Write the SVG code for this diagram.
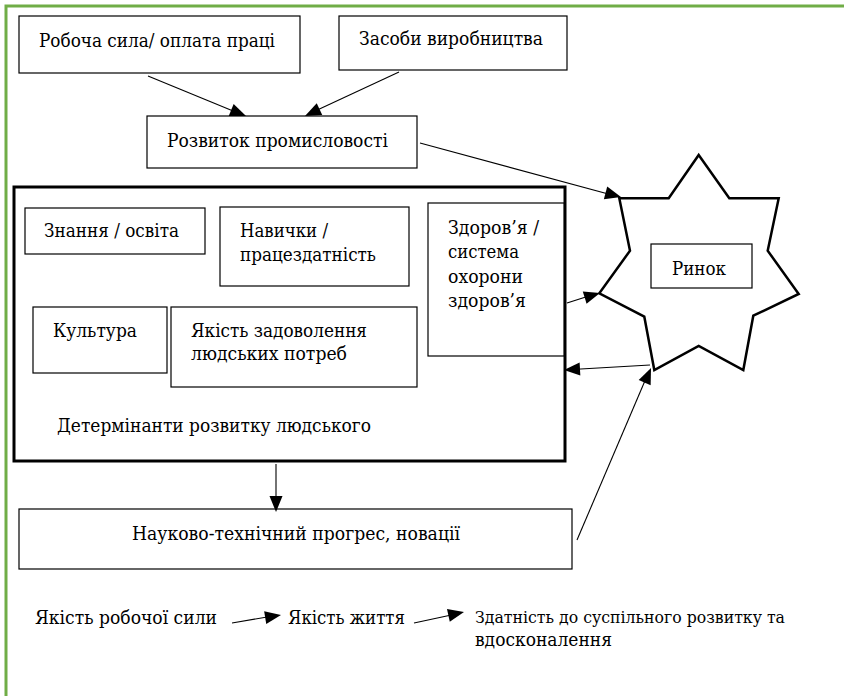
<svg xmlns="http://www.w3.org/2000/svg" width="844" height="696" viewBox="0 0 844 696">
<defs>
<style>
.box{fill:#fff;stroke:#000;stroke-width:1.2}
.thick{fill:#fff;stroke:#000;stroke-width:3}
.star{fill:#fff;stroke:#000;stroke-width:2.5;stroke-linejoin:miter}
.ln{stroke:#000;stroke-width:1.1;fill:none}
.hd{fill:#000;stroke:none}
text{font-family:"DejaVu Serif","Liberation Serif",serif;font-size:19px;fill:#000}
</style>
</defs>
<rect width="844" height="696" fill="#fff"/>
<rect x="6" y="6" width="850" height="700" fill="none" stroke="#70ad47" stroke-width="3"/>

<g id="robocha">
<rect class="box" x="19" y="16" width="281" height="57"/>
<text x="39" y="47" textLength="236" lengthAdjust="spacingAndGlyphs">Робоча сила/ оплата праці</text>
</g>
<g id="zasoby">
<rect class="box" x="339" y="16" width="228" height="54"/>
<text x="359" y="45" textLength="184" lengthAdjust="spacingAndGlyphs">Засоби виробництва</text>
</g>
<g id="rozvytok">
<rect class="box" x="147" y="116" width="270" height="52"/>
<text x="167" y="147" textLength="221" lengthAdjust="spacingAndGlyphs">Розвиток промисловості</text>
</g>

<g id="determinanty">
<rect class="thick" x="14" y="187" width="551" height="274"/>
<text x="57" y="432" textLength="314" lengthAdjust="spacingAndGlyphs">Детермінанти розвитку людського</text>
</g>
<g id="znannia">
<rect class="box" x="25" y="208" width="180" height="46"/>
<text x="44" y="237" textLength="135" lengthAdjust="spacingAndGlyphs">Знання / освіта</text>
</g>
<g id="navychky">
<rect class="box" x="220" y="207" width="189" height="79"/>
<text x="240" y="237" textLength="88" lengthAdjust="spacingAndGlyphs">Навички /</text>
<text x="240" y="261" textLength="136" lengthAdjust="spacingAndGlyphs">працездатність</text>
</g>
<g id="zdorovia">
<rect class="box" x="428" y="203" width="136" height="153"/>
<text x="448" y="234" textLength="91" lengthAdjust="spacingAndGlyphs">Здоров’я /</text>
<text x="448" y="258" textLength="71" lengthAdjust="spacingAndGlyphs">система</text>
<text x="448" y="283" textLength="75" lengthAdjust="spacingAndGlyphs">охорони</text>
<text x="448" y="307" textLength="78" lengthAdjust="spacingAndGlyphs">здоров’я</text>
</g>
<g id="kultura">
<rect class="box" x="33" y="307" width="134" height="66"/>
<text x="53" y="337" textLength="84" lengthAdjust="spacingAndGlyphs">Культура</text>
</g>
<g id="yakist">
<rect class="box" x="171" y="307" width="246" height="80"/>
<text x="191" y="337" textLength="176" lengthAdjust="spacingAndGlyphs">Якість задоволення</text>
<text x="191" y="360" textLength="156" lengthAdjust="spacingAndGlyphs">людських потреб</text>
</g>

<g id="rynok">
<polygon class="star" points="698.7,155 729.3,198.3 778.7,198.3 767.7,250.7 798.7,294 753.3,315.7 743.3,370 698.7,346 654.3,370 644.3,316.7 599.3,293.3 630,250.7 619.3,198.3 668.7,198.3"/>
<rect class="box" x="651" y="244" width="101" height="44"/>
<text x="672" y="275" textLength="54" lengthAdjust="spacingAndGlyphs">Ринок</text>
</g>

<g id="ntp">
<rect class="box" x="19" y="509" width="553" height="60"/>
<text x="132" y="540" textLength="328" lengthAdjust="spacingAndGlyphs">Науково-технічний прогрес, новації</text>
</g>

<g id="bottom-chain">
<text x="35" y="624" textLength="182" lengthAdjust="spacingAndGlyphs">Якість робочої сили</text>
<text x="288" y="624" textLength="117" lengthAdjust="spacingAndGlyphs">Якість життя</text>
<text x="475" y="623" style="font-size:17px" textLength="310" lengthAdjust="spacingAndGlyphs">Здатність до суспільного розвитку та</text>
<text x="475" y="646" textLength="137" lengthAdjust="spacingAndGlyphs">вдосконалення</text>
</g>

<g id="connectors">
<line class="ln" x1="148" y1="76" x2="238" y2="113"/>
<polygon class="hd" points="0,-6.5 16,0 0,6.5" transform="translate(246,116) rotate(22.2) translate(-16,0)"/>
<line class="ln" x1="399" y1="72" x2="313" y2="112"/>
<polygon class="hd" points="0,-6.5 16,0 0,6.5" transform="translate(305,116) rotate(154.9) translate(-16,0)"/>
<line class="ln" x1="420" y1="143" x2="612" y2="195"/>
<polygon class="hd" points="0,-6.5 16,0 0,6.5" transform="translate(621,197) rotate(15) translate(-16,0)"/>
<line class="ln" x1="567" y1="303" x2="592" y2="295"/>
<polygon class="hd" points="0,-6.5 16,0 0,6.5" transform="translate(600,293) rotate(-16.9) translate(-16,0)"/>
<line class="ln" x1="650" y1="365" x2="572" y2="369.5"/>
<polygon class="hd" points="0,-6.5 16,0 0,6.5" transform="translate(564,370) rotate(176.7) translate(-16,0)"/>
<line class="ln" x1="577" y1="540" x2="647" y2="376"/>
<polygon class="hd" points="0,-6.5 16,0 0,6.5" transform="translate(651,368) rotate(-66.7) translate(-16,0)"/>
<line class="ln" x1="276" y1="464" x2="276" y2="504"/>
<polygon class="hd" points="0,-6.5 16,0 0,6.5" transform="translate(276,512) rotate(90) translate(-16,0)"/>
<line class="ln" x1="232" y1="623" x2="273" y2="616"/>
<polygon class="hd" points="0,-6.5 16,0 0,6.5" transform="translate(281,615) rotate(-9.3) translate(-16,0)"/>
<line class="ln" x1="414" y1="623" x2="456" y2="614"/>
<polygon class="hd" points="0,-6.5 16,0 0,6.5" transform="translate(464,612) rotate(-12.4) translate(-16,0)"/>
</g>
</svg>
